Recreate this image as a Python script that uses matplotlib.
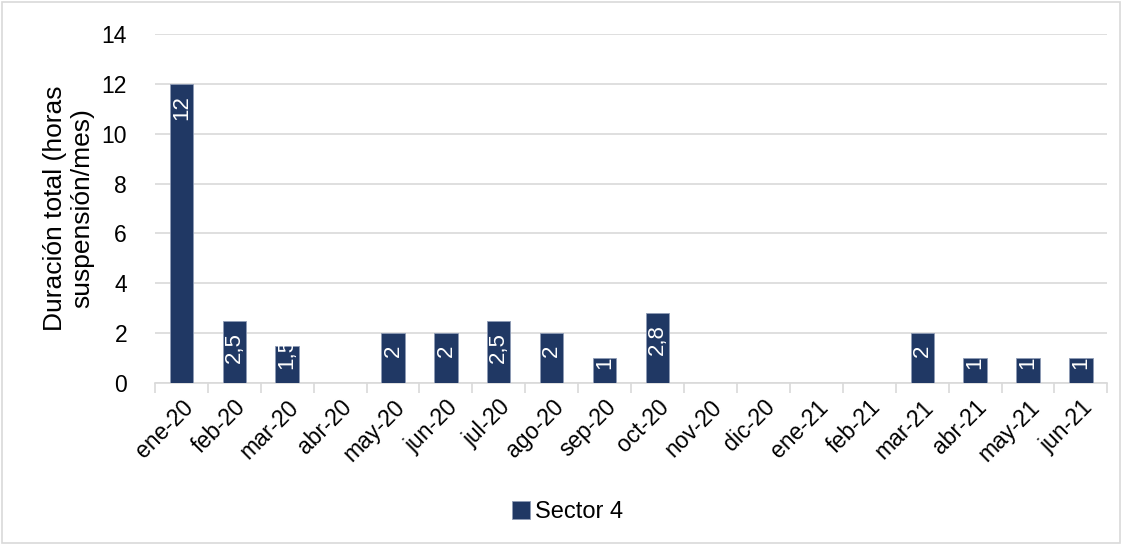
import numpy as np
import matplotlib.pyplot as plt

plt.rcParams['font.family'] = ['Liberation Sans', 'DejaVu Sans']

meses = ["ene-20", "feb-20", "mar-20", "abr-20", "may-20", "jun-20", "jul-20",
         "ago-20", "sep-20", "oct-20", "nov-20", "dic-20", "ene-21", "feb-21",
         "mar-21", "abr-21", "may-21", "jun-21"]
sector4 = [12, 2.5, 1.5, 0, 2, 2, 2.5, 2, 1, 2.8, 0, 0, 0, 0, 2, 1, 1, 1]

color = '#203864'

fig = plt.figure(figsize=(11.22, 5.45), dpi=100)
ax = fig.add_axes([0.138, 0.297, 0.849, 0.641])

ind = np.arange(len(meses))
bars = ax.bar(ind, sector4, 0.44, color=color, label="Sector 4", zorder=3,
              edgecolor='#8e9bb5', linewidth=0.6)

ax.set_xlim(-0.5, len(meses) - 0.5)
ax.set_ylim(0, 14)

etiquetas = []
for x, v in zip(ind, sector4):
    if v == 0:
        continue
    txt = ("%g" % v).replace(".", ",")
    t = ax.annotate(txt, (x, v), xytext=(0, -8), textcoords='offset points',
                    rotation=90, ha='center', va='top', color='white',
                    fontsize=16, zorder=4)
    etiquetas.append((t, x))

# como Excel: si la etiqueta no cabe, se apoya sobre la base de la barra
fig.canvas.draw()
r = fig.canvas.get_renderer()
base = ax.transData.transform((0, 0))[1]
for t, x in etiquetas:
    bb = t.get_window_extent(r)
    if bb.y0 < base + 14:
        t.xy = (x, 0)
        t.set_va('bottom')
        t.set_position((0, 14 * 72 / fig.dpi))

ax.set_yticks(range(0, 15, 2))
ax.set_xticks(ind)
ax.set_xticklabels(meses, rotation=45, ha='right', rotation_mode='anchor')
ax.set_xticks(np.arange(-0.5, len(meses), 1), minor=True)
ax.tick_params(axis='x', which='major', length=0, pad=9, labelsize=16.5)
ax.tick_params(axis='x', which='minor', length=7, color='#d9d9d9', width=1.2)
ax.tick_params(axis='y', length=0, pad=20, labelsize=16.5)

ax.grid(axis='y', color='#d9d9d9', linewidth=1.2, zorder=0)
for s in ['top', 'right', 'left']:
    ax.spines[s].set_visible(False)
ax.spines['bottom'].set_color('#d9d9d9')
ax.spines['bottom'].set_linewidth(1.2)

ax.set_ylabel("Duración total (horas\nsuspensión/mes)", fontsize=19, labelpad=5,
              linespacing=1.2)

fig.legend(loc='center', bbox_to_anchor=(0.506, 0.06), frameon=False,
           fontsize=17, handlelength=0.75, handleheight=0.75, handletextpad=0.25)

# borde de la figura
fig.patches.append(plt.Rectangle((0.002, 0.003), 0.996, 0.994, transform=fig.transFigure,
                                 fill=False, edgecolor='#d9d9d9', linewidth=1.2))

plt.savefig("out.png", dpi=100)
